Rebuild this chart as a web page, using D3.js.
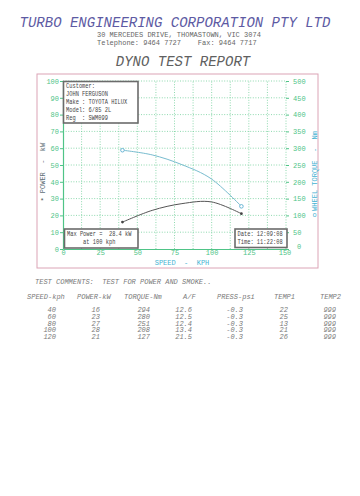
<!DOCTYPE html>
<html><head><meta charset="utf-8">
<script src="https://cdn.jsdelivr.net/npm/d3@7"></script>
<style>
html,body{margin:0;padding:0;background:#fff;}
svg{display:block;}
</style></head>
<body>
<svg id="c" width="360" height="496"></svg>
<script>
// ---- data ----
const speeds = [40, 60, 80, 100, 120];
const powerKW = [16, 23, 27, 28, 21];
const torqueNm = [294, 280, 251, 208, 127];
const airFuel = ["12.6", "12.5", "12.4", "13.4", "21.5"];
const pressPsi = ["-0.3", "-0.3", "-0.3", "-0.3", "-0.3"];
const temp1 = [22, 25, 13, 21, 26];
const temp2 = [999, 999, 999, 999, 999];
const xTicks = [0, 25, 50, 75, 100, 125, 150];
const powerTicks = [0, 10, 20, 30, 40, 50, 60, 70, 80, 90, 100];
const torqueTicks = [0, 50, 100, 150, 200, 250, 300, 350, 400, 450, 500];
const customerLines = ["Customer:", "JOHN FERGUSON", "Make : TOYOTA HILUX", "Model: 6/85 2L", "Reg  : SWM099"];
const maxPowerLines = ["Max Power =  28.4 kW", "     at 100 kph"];
const dateLines = ["Date: 12:09:08", "Time: 11:22:08"];
const tableHeaders = ["SPEED-kph", "POWER-kW", "TORQUE-Nm", "A/F", "PRESS-psi", "TEMP1", "TEMP2"];

const svg = d3.select("#c");
const mono = "'Liberation Mono','DejaVu Sans Mono',monospace";
const green = "#4fc487", gridC = "#72cf9a", cyan = "#45b3d3";

// header
svg.append("text").attr("x", 175).attr("y", 27).attr("text-anchor", "middle")
  .attr("font-family", mono).attr("font-style", "italic").attr("font-size", 14)
  .attr("fill", "#5d5aa3").text("TURBO ENGINEERING CORPORATION PTY LTD");
svg.append("text").attr("x", 97).attr("y", 37).attr("font-family", mono).attr("font-size", 7)
  .attr("fill", "#666").attr("xml:space", "preserve").text("30 MERCEDES DRIVE, THOMASTOWN, VIC 3074");
svg.append("text").attr("x", 97).attr("y", 44.5).attr("font-family", mono).attr("font-size", 7)
  .attr("fill", "#666").attr("xml:space", "preserve").text("Telephone: 9464 7727    Fax: 9464 7717");
svg.append("text").attr("x", 183).attr("y", 66).attr("text-anchor", "middle")
  .attr("font-family", mono).attr("font-style", "italic").attr("font-size", 14)
  .attr("fill", "#606060").text("DYNO TEST REPORT");

// outer border
svg.append("rect").attr("x", 37).attr("y", 74).attr("width", 281).attr("height", 194)
  .attr("fill", "none").attr("stroke", "#dba4b6").attr("stroke-width", 1);

// scales
const x = d3.scaleLinear().domain([0, 150]).range([63, 286]);
const yP = d3.scaleLinear().domain([0, 100]).range([249, 81]);
const yT = d3.scaleLinear().domain([0, 500]).range([249, 81]);

// grid
const gGrid = svg.append("g").attr("stroke", gridC).attr("stroke-width", 0.8).attr("stroke-dasharray", "1,1.6");
d3.range(12.5, 150.1, 12.5).forEach(v => {
  gGrid.append("line").attr("x1", x(v)).attr("x2", x(v)).attr("y1", yP(0)).attr("y2", yP(100));
});
powerTicks.filter(v => v > 0).forEach(v => {
  gGrid.append("line").attr("x1", x(0)).attr("x2", x(150)).attr("y1", yP(v)).attr("y2", yP(v));
});

function styleAxis(g) {
  g.selectAll("text").attr("font-family", mono).attr("font-size", 7).attr("fill", green);
  g.selectAll("line").attr("stroke", green);
  g.select(".domain").attr("stroke", green).attr("stroke-width", 1.2);
}
// left axis
svg.append("g").attr("transform", `translate(${x(0)},0)`)
  .call(d3.axisLeft(yP).tickValues(powerTicks).tickSize(3).tickPadding(1).tickSizeOuter(0))
  .call(styleAxis);
// right axis
svg.append("g").attr("transform", `translate(${x(150)},0)`)
  .call(d3.axisRight(yT).tickValues(torqueTicks).tickSize(3).tickPadding(4).tickSizeOuter(0))
  .call(styleAxis).call(g => g.select(".domain").remove())
  .call(g => g.selectAll(".tick").filter(d => d === 0).select("text").attr("dx", 4).attr("dy", "-0.1em"));
// bottom axis
svg.append("g").attr("transform", `translate(0,${yP(0)})`)
  .call(d3.axisBottom(x).tickValues(xTicks).tickSize(0).tickPadding(1).tickSizeOuter(0))
  .call(styleAxis)
  .call(g => g.selectAll(".tick").filter(d => d === 150).select("text").attr("dx", -1.5));

// axis titles
svg.append("text").attr("x", 182).attr("y", 264.5).attr("text-anchor", "middle")
  .attr("font-family", mono).attr("font-size", 7).attr("fill", cyan)
  .attr("xml:space", "preserve").text("SPEED  -  KPH");
svg.append("text").attr("transform", "translate(44.5,168) rotate(-90)").attr("text-anchor", "middle")
  .attr("font-family", mono).attr("font-size", 7).attr("fill", "#5f7078")
  .attr("xml:space", "preserve").text("POWER  -  kW");
svg.append("text").attr("x", 42).attr("y", 202.5).attr("text-anchor", "middle")
  .attr("font-family", mono).attr("font-size", 7).attr("fill", "#555").text("*");
svg.append("text").attr("transform", "translate(317,171) rotate(-90)").attr("text-anchor", "middle")
  .attr("font-family", mono).attr("font-size", 7).attr("fill", cyan)
  .attr("xml:space", "preserve").text("WHEEL TORQUE  -  Nm");
svg.append("text").attr("x", 314.5).attr("y", 217).attr("text-anchor", "middle")
  .attr("font-family", mono).attr("font-size", 7).attr("fill", cyan).text("o");

// curves
const pData = speeds.map((s, i) => ({s, v: powerKW[i]}));
const tData = speeds.map((s, i) => ({s, v: torqueNm[i]}));
svg.append("path").datum(tData).attr("fill", "none").attr("stroke", "#78bccf").attr("stroke-width", 1)
  .attr("d", d3.line().x(d => x(d.s)).y(d => yT(d.v)).curve(d3.curveCardinal.tension(0)));
svg.append("path").datum(pData).attr("fill", "none").attr("stroke", "#555").attr("stroke-width", 1)
  .attr("d", d3.line().x(d => x(d.s)).y(d => yP(d.v)).curve(d3.curveCardinal.tension(0)));
// markers
[tData[0], tData[tData.length - 1]].forEach(d => {
  svg.append("circle").attr("cx", x(d.s)).attr("cy", yT(d.v)).attr("r", 1.8)
    .attr("fill", "#fff").attr("stroke", "#5aaed0").attr("stroke-width", 0.9);
});
[pData[0], pData[pData.length - 1]].forEach(d => {
  svg.append("circle").attr("cx", x(d.s)).attr("cy", yP(d.v)).attr("r", 1.4).attr("fill", "#444");
});

// boxes
function box(x0, y0, w, h, lines, tx, ty, lh) {
  svg.append("rect").attr("x", x0).attr("y", y0).attr("width", w).attr("height", h)
    .attr("fill", "#fff").attr("stroke", "#6b6b6b").attr("stroke-width", 1.6);
  lines.forEach((t, i) => {
    svg.append("text").attr("transform", `translate(${tx},${ty + i * lh}) scale(0.84,1)`)
      .attr("font-family", mono).attr("font-size", 6.4).attr("fill", "#444")
      .attr("xml:space", "preserve").text(t);
  });
}
box(63.5, 81.5, 74.5, 41.5, customerLines, 66, 88.2, 8);
box(64.5, 229, 73.5, 19, maxPowerLines, 67, 235.5, 8.3);
box(235, 229, 52, 18.5, dateLines, 237.5, 235.5, 8.3);

// table
const grey = "#7a7a7a";
svg.append("text").attr("x", 35).attr("y", 283.5).attr("font-family", mono).attr("font-style", "italic")
  .attr("font-size", 7).attr("fill", grey).attr("xml:space", "preserve")
  .text("TEST COMMENTS:  TEST FOR POWER AND SMOKE..");
const headX = [27, 77, 124, 183, 217, 274, 320];
tableHeaders.forEach((h, i) => {
  svg.append("text").attr("x", headX[i]).attr("y", 298.5).attr("font-family", mono).attr("font-style", "italic")
    .attr("font-size", 7).attr("fill", grey).text(h);
});
const colRight = [56, 100, 150, 192, 243, 288, 336];
const cols = [speeds, powerKW, torqueNm, airFuel, pressPsi, temp1, temp2];
speeds.forEach((s, r) => {
  cols.forEach((col, c) => {
    svg.append("text").attr("x", colRight[c]).attr("y", 312 + r * 6.8).attr("text-anchor", "end")
      .attr("font-family", mono).attr("font-style", "italic").attr("font-size", 7).attr("fill", grey)
      .text(col[r]);
  });
});
</script>
</body></html>
